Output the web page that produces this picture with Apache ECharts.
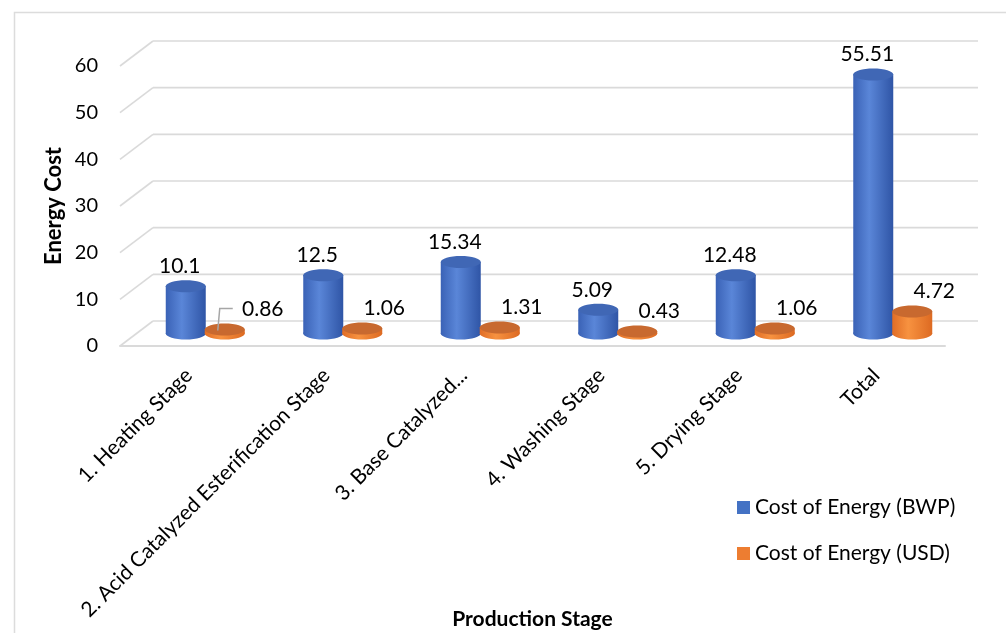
<!DOCTYPE html>
<html>
<head>
<meta charset="utf-8">
<script src="https://cdn.jsdelivr.net/npm/echarts@6/dist/echarts.min.js"></script>
<style>
  html, body { margin: 0; padding: 0; background: #fff; }
  #chart { width: 1006px; height: 633px; }
</style>
</head>
<body>
<div id="chart"></div>
<script>
// data
const stages = [
  '1. Heating Stage',
  '2. Acid Catalyzed Esterification Stage',
  '3. Base Catalyzed...',
  '4. Washing Stage',
  '5. Drying Stage',
  'Total'
]
const costBWP = [10.1, 12.5, 15.34, 5.09, 12.48, 55.51]
const costUSD = [0.86, 1.06, 1.31, 0.43, 1.06, 4.72]
const yTicks = [0, 10, 20, 30, 40, 50, 60]

const FONT = 'Lato, "Noto Sans", sans-serif'
// fake 3D: back wall sits this far up/right of the front plane, bars halfway
const DEPTH_X = 33, DEPTH_Y = -25
const BLUE = '#4472C4', ORANGE = '#ED7D31'

const chart = echarts.init(document.getElementById('chart'), null, { renderer: 'canvas' })

function wallItem(params, api) {
  const cs = params.coordSys
  const y = api.coord([0, api.value(1)])[1]
  const x0 = cs.x, x1 = cs.x + cs.width
  const line = { stroke: '#dadada', lineWidth: 1.6 }
  return {
    type: 'group',
    children: [
      { type: 'line', shape: { x1: x0, y1: y, x2: x0 + DEPTH_X, y2: y + DEPTH_Y }, style: line },
      { type: 'line', shape: { x1: x0 + DEPTH_X, y1: y + DEPTH_Y, x2: x1 + DEPTH_X, y2: y + DEPTH_Y }, style: line }
    ]
  }
}

function cylinder(side, colors, labelDx) {
  return function (params, api) {
    const i = api.value(0), v = api.value(1)
    const base = api.coord([i, 0]), top = api.coord([i, v])
    const rx = 20, ry = 6
    const cx = base[0] + DEPTH_X / 2 + side * 19.5
    const yb = base[1] + DEPTH_Y / 2
    const yt = top[1] + DEPTH_Y / 2
    const body = new echarts.graphic.LinearGradient(0, 0, 1, 0, [
      { offset: 0, color: colors[0] },
      { offset: 0.4, color: colors[1] },
      { offset: 1, color: colors[2] }
    ])
    const callout = side > 0 && i === 0
    const lx = cx + (callout ? 38 : labelDx)
    const kids = [
      { type: 'ellipse', shape: { cx: cx, cy: yb, rx: rx, ry: ry }, style: { fill: body } },
      { type: 'rect', shape: { x: cx - rx, y: yt, width: rx * 2, height: Math.max(yb - yt, 0) }, style: { fill: body } },
      { type: 'ellipse', shape: { cx: cx, cy: yt, rx: rx, ry: ry }, style: { fill: colors[3] } },
      {
        type: 'text',
        style: {
          x: lx, y: yt - 20, text: String(v),
          font: '21px ' + FONT, fill: '#000', align: 'center', verticalAlign: 'middle'
        }
      }
    ]
    if (callout) {
      kids.push({
        type: 'polyline',
        shape: { points: [[lx - 30, yt - 21], [lx - 43, yt - 21], [lx - 45, yt + 1]] },
        style: { stroke: '#a6a6a6', lineWidth: 1.5, fill: null }
      })
    }
    return { type: 'group', children: kids }
  }
}

chart.setOption({
  backgroundColor: '#fff',
  animation: false,
  textStyle: { fontFamily: FONT },
  graphic: [{
    type: 'rect', left: 12, top: 10, silent: true,
    shape: { width: 1100, height: 700 },
    style: { fill: 'none', stroke: '#dcdcdc', lineWidth: 1.5 }
  }],
  legend: {
    orient: 'vertical',
    left: 737, top: 497, padding: 0,
    itemWidth: 13, itemHeight: 13, itemGap: 25,
    icon: 'rect',
    textStyle: { fontSize: 21, color: '#000', fontFamily: FONT },
    data: ['Cost of Energy (BWP)', 'Cost of Energy (USD)']
  },
  grid: { left: 120, right: 61, top: 66, bottom: 287, containLabel: false, outerBoundsMode: 'none' },
  xAxis: {
    type: 'category',
    data: stages,
    name: 'Production Stage',
    nameLocation: 'middle',
    nameGap: 263,
    nameMoveOverlap: false,
    nameTextStyle: { fontSize: 21, fontWeight: 'bold', color: '#000', fontFamily: FONT },
    axisLine: { lineStyle: { color: '#dadada', width: 2 } },
    axisTick: { show: false },
    axisLabel: { rotate: 45, interval: 0, fontSize: 21, color: '#000', margin: 26, fontFamily: FONT }
  },
  yAxis: {
    type: 'value',
    min: 0, max: 60, interval: 10,
    name: 'Energy Cost',
    nameLocation: 'middle',
    nameGap: 55,
    nameMoveOverlap: false,
    nameTextStyle: { fontSize: 22, fontWeight: 'bold', color: '#000', fontFamily: FONT },
    axisLine: { show: false },
    axisTick: { show: false },
    splitLine: { show: false },
    axisLabel: { fontSize: 20, color: '#000', margin: 22, fontFamily: FONT }
  },
  series: [
    {
      name: 'wall', type: 'custom', silent: true, z: 1,
      renderItem: wallItem,
      encode: { x: 0, y: 1 },
      data: yTicks.map(v => [0, v])
    },
    {
      name: 'Cost of Energy (BWP)', type: 'custom', z: 3,
      color: BLUE,
      renderItem: cylinder(-1, ['#3a62b6', '#5a86d8', '#2f55a6', '#4067b5'], -6),
      encode: { x: 0, y: 1 },
      data: costBWP.map((v, i) => [i, v])
    },
    {
      name: 'Cost of Energy (USD)', type: 'custom', z: 3,
      color: ORANGE,
      renderItem: cylinder(1, ['#e06d26', '#f79240', '#dd6a22', '#c8692f'], 22),
      encode: { x: 0, y: 1 },
      data: costUSD.map((v, i) => [i, v])
    }
  ]
})
</script>
</body>
</html>
